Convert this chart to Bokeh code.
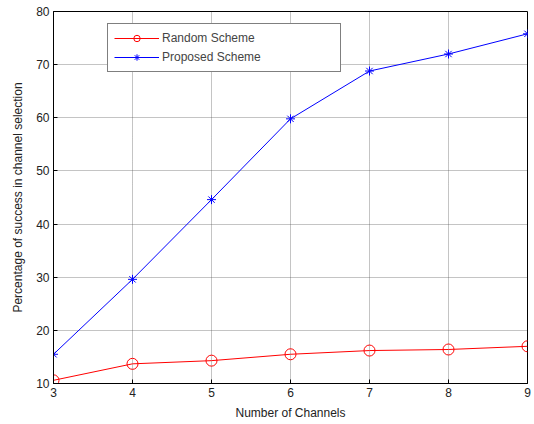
from bokeh.plotting import figure
from bokeh.models import Range1d, FixedTicker
from bokeh.embed import file_html
from bokeh.resources import INLINE

channels = [3, 4, 5, 6, 7, 8, 9]
random_scheme = [10.6, 13.7, 14.3, 15.5, 16.2, 16.4, 17.0]
proposed_scheme = [15.5, 29.6, 44.6, 59.8, 68.8, 72.0, 75.8]
x_ticks = [3, 4, 5, 6, 7, 8, 9]
y_ticks = [10, 20, 30, 40, 50, 60, 70, 80]

FONT = "Liberation Sans"

p = figure(width=534, height=424, output_backend="svg", toolbar_location=None,
           x_range=Range1d(3, 9), y_range=Range1d(10, 80),
           min_border_left=53, min_border_right=7, min_border_top=11, min_border_bottom=41)

p.outline_line_color = "black"
p.outline_line_width = 1
p.background_fill_color = "white"

p.line(channels, random_scheme, color="red", line_width=1, legend_label="Random Scheme")
p.scatter(channels, random_scheme, marker="circle", size=11, fill_color=None,
          line_color="red", line_width=1, legend_label="Random Scheme")
p.line(channels, proposed_scheme, color="blue", line_width=1, legend_label="Proposed Scheme")
p.scatter(channels, proposed_scheme, marker="asterisk", size=9,
          line_color="blue", line_width=1, legend_label="Proposed Scheme")

for ax in (p.xaxis[0], p.yaxis[0]):
    ax.major_tick_in = 4
    ax.major_tick_out = 0
    ax.minor_tick_in = 0
    ax.minor_tick_out = 0
    ax.axis_line_color = "black"
    ax.major_label_text_font = FONT
    ax.major_label_text_font_size = "12px"
    ax.major_label_text_color = "#222222"
    ax.axis_label_text_font = FONT
    ax.axis_label_text_font_size = "12px"
    ax.axis_label_text_font_style = "normal"
    ax.axis_label_text_color = "#222222"

p.xaxis.ticker = FixedTicker(ticks=x_ticks)
p.yaxis.ticker = FixedTicker(ticks=y_ticks)
p.xaxis.axis_label = "Number of Channels"
p.yaxis.axis_label = "Percentage of success in channel selection"
p.xaxis.axis_label_standoff = 6
p.yaxis.axis_label_standoff = 8
p.xaxis.major_label_standoff = 4
p.yaxis.major_label_standoff = 4

p.grid.grid_line_color = "#555555"
p.grid.grid_line_dash = "1 1"
p.grid.grid_line_width = 1
p.grid.grid_line_alpha = 0.7

p.legend.location = (54, 311)
p.legend.border_line_color = "black"
p.legend.border_line_width = 1
p.legend.background_fill_alpha = 1
p.legend.label_text_font = FONT
p.legend.label_text_font_size = "12px"
p.legend.glyph_width = 45
p.legend.glyph_height = 16
p.legend.spacing = 3
p.legend.padding = 6
p.legend.margin = 0
p.legend.label_standoff = 3
p.legend.label_width = 172

open("out.html", "w").write(file_html(p, INLINE))
